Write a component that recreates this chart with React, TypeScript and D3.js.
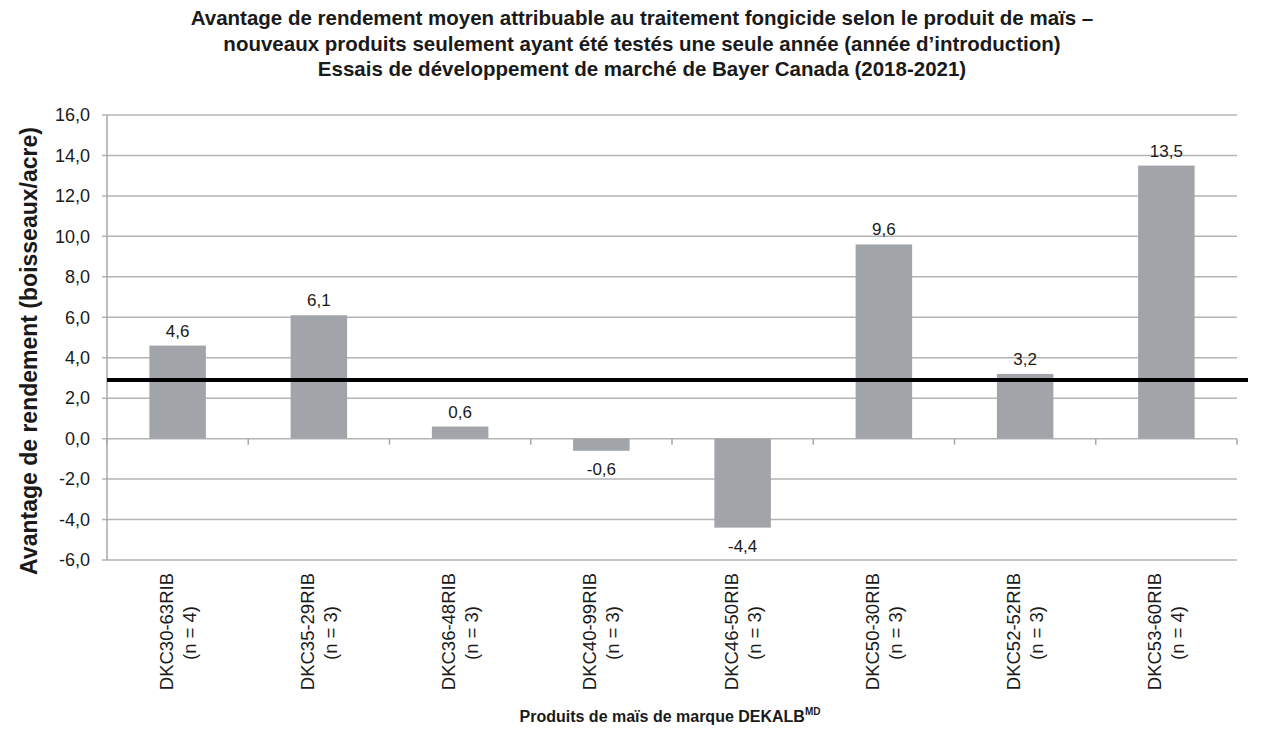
import React, { useEffect, useRef } from "react";
import * as d3 from "d3";

const titleLines = [
  "Avantage de rendement moyen attribuable au traitement fongicide selon le produit de maïs –",
  "nouveaux produits seulement ayant été testés une seule année (année d’introduction)",
  "Essais de développement de marché de Bayer Canada (2018-2021)",
];
const products = [
  "DKC30-63RIB",
  "DKC35-29RIB",
  "DKC36-48RIB",
  "DKC40-99RIB",
  "DKC46-50RIB",
  "DKC50-30RIB",
  "DKC52-52RIB",
  "DKC53-60RIB",
];
const trialCounts = [4, 3, 3, 3, 3, 3, 3, 4];
const yieldAdvantage = [4.6, 6.1, 0.6, -0.6, -4.4, 9.6, 3.2, 13.5];
const referenceLine = 2.9;
const yTicks = [-6, -4, -2, 0, 2, 4, 6, 8, 10, 12, 14, 16];

const fmt = (v: number) => v.toFixed(1).replace(".", ",");

const App = () => {
  const svgRef = useRef<SVGSVGElement | null>(null);

  useEffect(() => {
    if (!svgRef.current) return;
    const root = d3.select(svgRef.current);
    root.selectAll("*").remove();

    const W = 1280;
    const H = 740;
    const left = 107;
    const right = 1237;
    const top = 115;
    const bottom = 560;
    const font = "Arial, 'Liberation Sans', sans-serif";
    const ink = "#1a1a1a";

    root.attr("width", W).attr("height", H).style("font-family", font);
    root.append("rect").attr("width", W).attr("height", H).attr("fill", "#fff");

    const x = d3.scaleBand<string>()
      .domain(products)
      .range([left, right])
      .paddingInner(0.6)
      .paddingOuter(0.3);

    const y = d3.scaleLinear().domain([-6, 16]).range([bottom, top]);

    // title
    root.append("g")
      .selectAll("text")
      .data(titleLines)
      .enter()
      .append("text")
      .attr("x", 642)
      .attr("y", (_, i) => 25 + i * 25.5)
      .attr("text-anchor", "middle")
      .style("font-size", "20.5px")
      .style("font-weight", "bold")
      .attr("fill", ink)
      .text(d => d);

    // gridlines
    root.append("g")
      .selectAll("line")
      .data(yTicks)
      .enter()
      .append("line")
      .attr("x1", left - 5)
      .attr("x2", right)
      .attr("y1", d => y(d))
      .attr("y2", d => y(d))
      .attr("stroke", "#b4b4b4")
      .attr("stroke-width", 1.5);

    // left axis line
    root.append("line")
      .attr("x1", left).attr("x2", left)
      .attr("y1", top).attr("y2", bottom)
      .attr("stroke", "#a8a8a8")
      .attr("stroke-width", 1.5);

    // y tick labels
    root.append("g")
      .selectAll("text")
      .data(yTicks)
      .enter()
      .append("text")
      .attr("x", 90)
      .attr("y", d => y(d))
      .attr("dy", "0.35em")
      .attr("text-anchor", "end")
      .style("font-size", "18px")
      .attr("fill", ink)
      .text(d => fmt(d));

    // category tick marks along the zero line
    const step = x.step();
    const boundaries = d3.range(products.length + 1).map(i => left + i * step);
    root.append("g")
      .selectAll("line")
      .data(boundaries)
      .enter()
      .append("line")
      .attr("x1", d => d).attr("x2", d => d)
      .attr("y1", y(0)).attr("y2", y(0) + 6)
      .attr("stroke", "#a8a8a8")
      .attr("stroke-width", 1.5);

    // bars
    root.append("g")
      .selectAll("rect")
      .data(yieldAdvantage)
      .enter()
      .append("rect")
      .attr("x", (_, i) => x(products[i]) as number)
      .attr("width", x.bandwidth())
      .attr("y", d => y(Math.max(0, d)))
      .attr("height", d => Math.abs(y(d) - y(0)))
      .attr("fill", "#a1a5a9");

    // value labels
    root.append("g")
      .selectAll("text")
      .data(yieldAdvantage)
      .enter()
      .append("text")
      .attr("x", (_, i) => (x(products[i]) as number) + x.bandwidth() / 2)
      .attr("y", d => (d >= 0 ? y(d) - 9 : y(d) + 24))
      .attr("text-anchor", "middle")
      .style("font-size", "17px")
      .attr("fill", ink)
      .text(d => fmt(d));

    // reference line
    root.append("line")
      .attr("x1", left).attr("x2", 1248)
      .attr("y1", y(referenceLine)).attr("y2", y(referenceLine))
      .attr("stroke", "#000")
      .attr("stroke-width", 4);

    // x tick labels (rotated, two lines)
    const xl = root.append("g")
      .selectAll("g")
      .data(products)
      .enter()
      .append("g")
      .attr("transform", d => `translate(${(x(d) as number) + x.bandwidth() / 2}, 573) rotate(-90)`);
    xl.append("text")
      .attr("x", 0)
      .attr("y", -5)
      .attr("text-anchor", "end")
      .style("font-size", "18.5px")
      .attr("fill", ink)
      .text(d => d);
    xl.append("text")
      .attr("x", -60)
      .attr("y", 18)
      .attr("text-anchor", "middle")
      .style("font-size", "18.5px")
      .attr("fill", ink)
      .text((_, i) => `(n = ${trialCounts[i]})`);

    // y axis title
    root.append("text")
      .attr("transform", `translate(37, 351) rotate(-90)`)
      .attr("text-anchor", "middle")
      .style("font-size", "23px")
      .style("font-weight", "bold")
      .attr("fill", ink)
      .text("Avantage de rendement (boisseaux/acre)");

    // x axis title
    const xt = root.append("text")
      .attr("x", 670)
      .attr("y", 722)
      .attr("text-anchor", "middle")
      .style("font-size", "16px")
      .style("font-weight", "bold")
      .attr("fill", ink);
    xt.append("tspan").text("Produits de maïs de marque DEKALB");
    xt.append("tspan")
      .attr("dy", -7)
      .style("font-size", "10px")
      .text("MD");
  }, []);

  return (
    <div style={{ position: "absolute", left: 0, top: 0, width: 1280, height: 740, background: "#fff" }}>
      <svg ref={svgRef} width={1280} height={740}></svg>
    </div>
  );
};

export default App;
